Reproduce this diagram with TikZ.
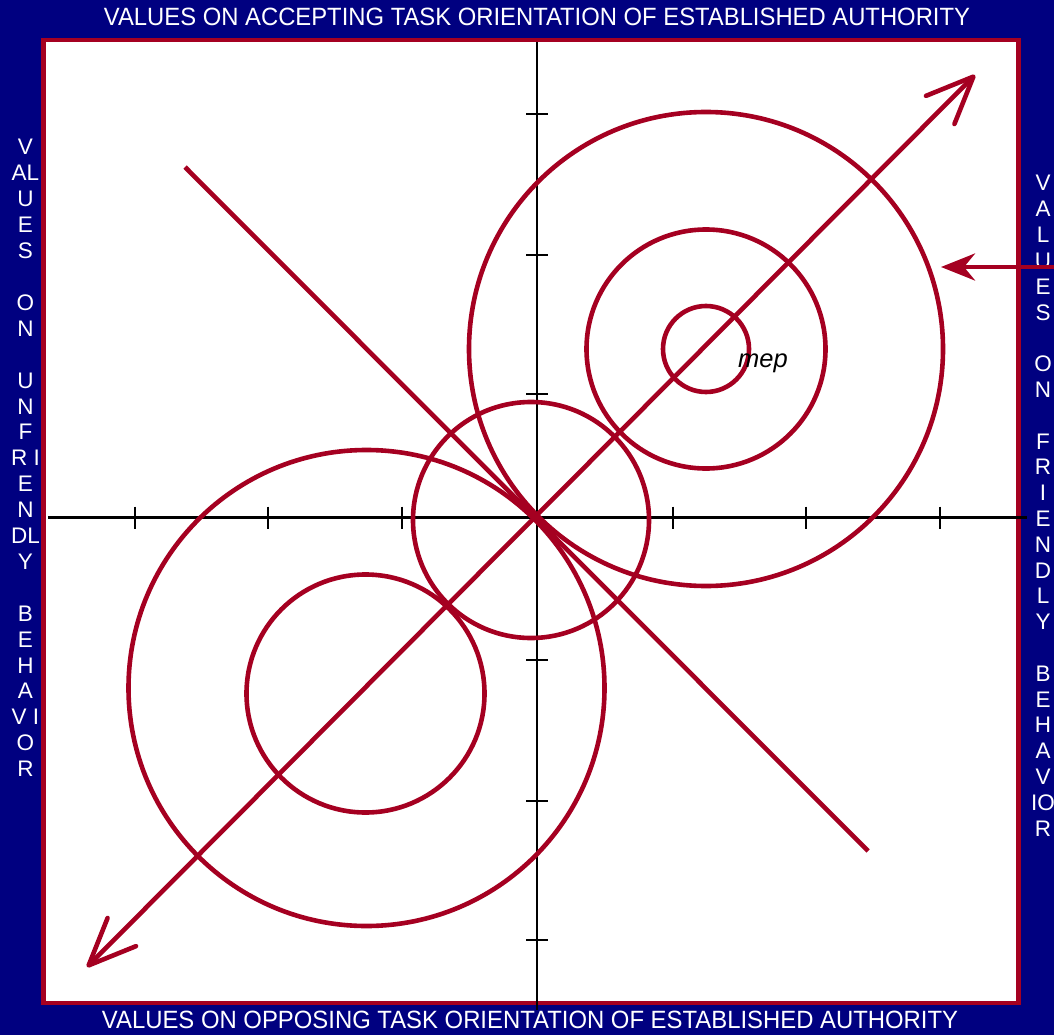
\documentclass[tikz,border=0pt]{standalone}
\usepackage{fontspec}
\setmainfont{Liberation Sans}
\usepackage{graphicx}
\usetikzlibrary{arrows.meta,positioning}

\definecolor{navybg}{RGB}{0,0,128}
\definecolor{ringred}{RGB}{165,0,33}

\begin{document}
\begin{tikzpicture}[x=1pt, y=-1pt,
    axis/.style={black, line width=2.2pt},
    axtick/.style={black, line width=2.2pt},
    ring/.style={ringred, line width=4.6pt},
    ray/.style={ringred, line width=4.6pt},
    barb/.tip={Straight Barb[length=47pt, width=40pt, round]},
    sidelabel/.style={white, inner sep=0pt, anchor=base, font=\fontsize{22.5}{26}\selectfont},
    titlelabel/.style={white, inner sep=0pt, font=\fontsize{25}{28}\selectfont}
]

% Background
\fill[navybg] (0,0) rectangle (1054,1035);
\useasboundingbox (0,0) rectangle (1054,1035);
\draw[ringred, line width=4.5pt, fill=white] (43.3,40) rectangle (1018.7,1003);

% Titles
\node[titlelabel] (toptitle) at (537,17) {\resizebox{866pt}{\height}{VALUES ON ACCEPTING TASK ORIENTATION OF ESTABLISHED AUTHORITY}};
\node[titlelabel] (bottitle) at (530,1019.5) {\resizebox{856pt}{\height}{VALUES ON OPPOSING TASK ORIENTATION OF ESTABLISHED AUTHORITY}};

\foreach \ch [count=\i] in {V,AL,U,E,S,{},O,N,{},U,N,F,R I,E,N,DL,Y,{},B,E,H,A,V I,O,R}
  \node[sidelabel] (lft\i) at (25.5,{155+(\i-1)*25.9}) {\ch};
\foreach \ch [count=\i] in {V,A,L,U,E,S,{},O,N,{},F,R,I,E,N,D,L,Y,{},B,E,H,A,V,IO,R}
  \node[sidelabel] (rgt\i) at (1043,{191+(\i-1)*25.8}) {\ch};

% Axes
\draw[axis] (537,42) -- (537,1010);
\draw[axis] (48,517.5) -- (1027,517.5);
\foreach \tx in {135,268,402,673,806,940}
  \draw[axtick] (\tx,506.5) -- (\tx,529);
\foreach \ty in {114,255,394,660,801,940}
  \draw[axtick] (526,\ty) -- (548,\ty);

% Rings
\draw[ring] (706,349) circle[radius=237pt];
\draw[ring] (706,349) circle[radius=119.5pt];
\draw[ring] (706,349) circle[radius=43pt];
\draw[ring] (531,520) circle[radius=118pt];
\draw[ring] (366.5,688) circle[radius=238pt];
\draw[ring] (365.5,693.5) circle[radius=119pt];

% Diagonals
\coordinate (rayend) at (87,967);
\coordinate (raytip) at (975,75);
\draw[ray, barb-barb] (rayend) -- (raytip);
\coordinate (crossa) at (185,167);
\coordinate (crossb) at (868,851);
\draw[ray] (crossa) -- (crossb);

% Pointer
\coordinate (feed) at (1054,267);
\coordinate (feedtip) at (941,267);
\draw[ray, -{Stealth[length=34pt, width=27pt, inset=11pt]}] (feed) -- (feedtip);

\node[anchor=base west, inner sep=0pt, font=\fontsize{25.5}{30}\selectfont\itshape] (mep) at (738,367) {mep};

\end{tikzpicture}
\end{document}
